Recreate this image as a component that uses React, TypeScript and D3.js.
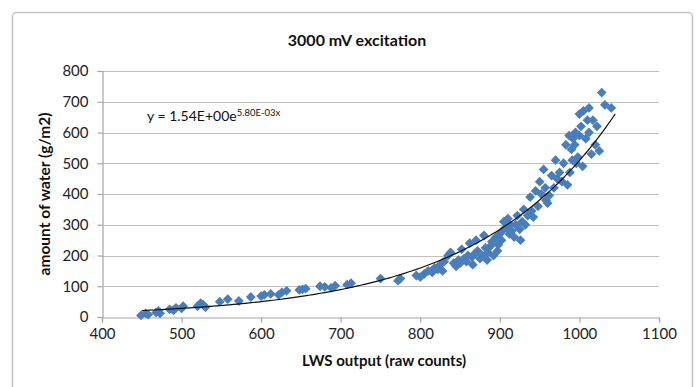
import React, { useRef, useEffect } from 'react';
import * as d3 from 'd3';

const lwsOutput = [
  449, 455, 458, 468, 471, 473, 485, 490, 493, 500, 502, 520, 524, 527, 530, 548, 558, 572, 587, 600,
  604, 612, 622, 626, 632, 648, 652, 656, 674, 680, 688, 693, 708, 713, 750, 772, 775, 795, 800, 805,
  810, 815, 818, 822, 825, 828, 830, 835, 838, 842, 845, 848, 850, 852, 855, 858, 860, 862, 865, 868,
  870, 872, 875, 878, 880, 882, 885, 888, 890, 892, 895, 898, 900, 902, 905, 908, 910, 912, 915, 918,
  920, 922, 925, 928, 930, 932, 935, 938, 940, 942, 945, 948, 950, 952, 955, 957, 958, 960, 962, 965,
  968, 970, 972, 975, 978, 980, 985, 988, 990, 991, 992, 994, 995, 996, 998, 1000, 1000, 1002, 1004, 1005,
  1008, 1010, 1012, 1015, 1017, 1020, 1022, 1025, 1028, 1032, 1040, 1012, 987, 983, 926, 913, 897, 884, 866, 903,
];
const waterAmount = [
  5, 12, 8, 15, 20, 12, 25, 22, 30, 28, 35, 35, 45, 40, 32, 50, 58, 52, 65, 68,
  72, 75, 72, 80, 85, 88, 90, 92, 100, 98, 95, 102, 105, 110, 125, 118, 125, 135, 130, 140,
  150, 145, 160, 155, 170, 150, 180, 200, 210, 175, 165, 185, 175, 220, 190, 180, 200, 240, 195, 205,
  250, 215, 190, 200, 265, 225, 210, 230, 245, 200, 260, 235, 270, 250, 310, 290, 320, 270, 280, 260,
  300, 330, 285, 310, 350, 300, 330, 390, 345, 325, 410, 360, 440, 400, 480, 420, 380, 370, 395, 460,
  420, 510, 450, 470, 440, 500, 430, 470, 545, 510, 580, 560, 600, 500, 520, 590, 660, 620, 490, 670,
  580, 640, 600, 530, 640, 560, 620, 540, 730, 690, 680, 680, 590, 560, 250, 300, 215, 185, 170, 280,
];

const xTicks = [400, 500, 600, 700, 800, 900, 1000, 1100];
const yTicks = [0, 100, 200, 300, 400, 500, 600, 700, 800];

// exponential fit from the chart: y = 1.54 e^(0.0058 x)
const fitA = 1.54;
const fitB = 5.8e-3;
const fitRange = [450, 1045];

const App: React.FC = () => {
  const svgRef = useRef<SVGSVGElement | null>(null);

  useEffect(() => {
    const svg = d3.select(svgRef.current);
    svg.selectAll('*').remove();
    const width = 696;
    const height = 387;
    const margin = { top: 71, right: 37, bottom: 70, left: 102 };
    const font = 'Lato, "Open Sans", sans-serif';

    svg.attr('width', width).attr('height', height).style('background', '#fff');

    // chart frame
    svg.append('rect')
      .attr('x', 12.5).attr('y', 12.5)
      .attr('width', 680).attr('height', 400)
      .attr('rx', 4)
      .attr('fill', '#fff')
      .attr('stroke', '#c4c4c4')
      .attr('stroke-width', 1.5);

    const x = d3.scaleLinear().domain([400, 1100]).range([margin.left, width - margin.right]);
    const y = d3.scaleLinear().domain([0, 800]).range([height - margin.bottom, margin.top]);

    // horizontal gridlines
    svg.append('g')
      .selectAll('line')
      .data(yTicks.slice(1))
      .enter()
      .append('line')
      .attr('x1', x(400)).attr('x2', x(1100))
      .attr('y1', d => Math.round(y(d)) + 0.5).attr('y2', d => Math.round(y(d)) + 0.5)
      .attr('stroke', '#c0c0c0')
      .attr('stroke-width', 1.2);

    const xAxis = svg.append('g')
      .attr('transform', `translate(0,${Math.round(y(0)) + 0.5})`)
      .call(d3.axisBottom(x).tickValues(xTicks).tickSize(5).tickPadding(6).tickFormat(d3.format('d')));
    const yAxis = svg.append('g')
      .attr('transform', `translate(${Math.round(x(400)) + 0.5},0)`)
      .call(d3.axisLeft(y).tickValues(yTicks).tickSize(5).tickPadding(9).tickFormat(d3.format('d')));

    [xAxis, yAxis].forEach(g => {
      g.select('.domain').attr('stroke', '#a6a6a6').attr('stroke-width', 1.2);
      g.selectAll('.tick line').attr('stroke', '#a6a6a6').attr('stroke-width', 1.2);
      g.selectAll('.tick text')
        .attr('fill', '#222')
        .style('font-family', font)
        .style('font-size', '15px');
    });

    // data points as diamonds
    const diamond = d3.symbol().type(d3.symbolSquare).size(48);
    svg.append('g')
      .selectAll('path')
      .data(lwsOutput.map((v, i) => [v, waterAmount[i]]))
      .enter()
      .append('path')
      .attr('d', diamond)
      .attr('transform', d => `translate(${x(d[0])},${y(d[1])}) rotate(45)`)
      .attr('fill', '#4A7EBB');

    // trendline
    const fitX = d3.range(fitRange[0], fitRange[1] + 1, 5);
    const line = d3.line<number>()
      .x(d => x(d))
      .y(d => y(fitA * Math.exp(fitB * d)))
      .curve(d3.curveMonotoneX);
    svg.append('path')
      .datum(fitX)
      .attr('d', line)
      .attr('fill', 'none')
      .attr('stroke', '#111')
      .attr('stroke-width', 1.2);

    // equation label
    const eq = svg.append('text')
      .attr('x', 147)
      .attr('y', 121)
      .style('font-family', font)
      .style('font-size', '14px')
      .attr('fill', '#111')
      .text('y = 1.54E+00e');
    eq.append('tspan')
      .attr('dy', -5)
      .style('font-size', '9.5px')
      .text('5.80E-03x');

    // title
    svg.append('text')
      .attr('x', 357)
      .attr('y', 46)
      .attr('text-anchor', 'middle')
      .style('font-family', font)
      .style('font-size', '16px')
      .style('font-weight', 'bold')
      .attr('fill', '#111')
      .text('3000 mV excitation');

    // x-axis label
    svg.append('text')
      .attr('x', 384)
      .attr('y', 366)
      .attr('text-anchor', 'middle')
      .style('font-family', font)
      .style('font-size', '15px')
      .style('font-weight', 'bold')
      .attr('fill', '#111')
      .text('LWS output (raw counts)');

    // y-axis label
    svg.append('text')
      .attr('transform', `translate(50,${(y(0) + y(800)) / 2}) rotate(-90)`)
      .attr('text-anchor', 'middle')
      .style('font-family', font)
      .style('font-size', '15.5px')
      .style('font-weight', 'bold')
      .attr('fill', '#111')
      .text('amount of water (g/m2)');
  }, []);

  return (
    <svg ref={svgRef} style={{ position: 'absolute', left: 0, top: 0, display: 'block' }}></svg>
  );
};

export default App;
